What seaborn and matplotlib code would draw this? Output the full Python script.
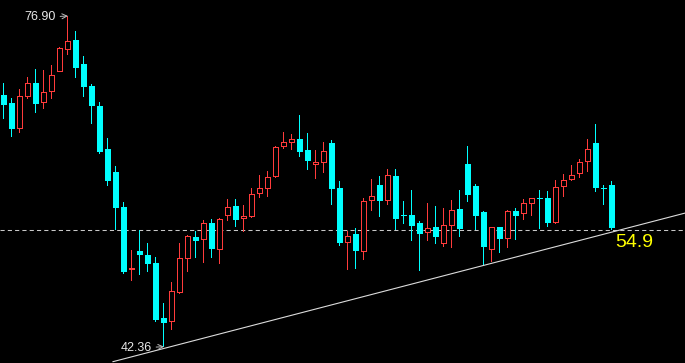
import matplotlib
matplotlib.use('Agg')
import matplotlib.pyplot as plt
import seaborn as sns
import numpy as np

# candlestick data (daily OHLC)
opens = [68.65, 67.81, 65.13, 68.47, 69.87, 67.78, 68.93, 71.08, 73.32, 74.36,
         71.89, 69.59, 67.50, 63.01, 60.61, 56.95, 50.37, 52.35, 51.94, 51.10,
         45.36, 44.97, 48.00, 51.55, 53.82, 53.47, 55.28, 52.49, 56.04, 57.05,
         55.73, 55.94, 58.34, 58.86, 60.11, 63.25, 63.67, 64.05, 62.90, 61.31,
         61.58, 63.63, 58.93, 53.22, 54.13, 52.28, 57.61, 59.25, 57.61, 60.19,
         56.11, 56.11, 55.28, 54.20, 54.86, 53.12, 54.93, 56.74, 61.47, 59.14,
         56.43, 52.51, 54.83, 53.64, 56.50, 56.25, 57.29, 57.89, 57.86, 55.31,
         59.01, 59.74, 60.37, 61.62, 63.60, 58.90, 59.22]
highs = [69.90, 68.34, 69.28, 70.53, 71.36, 71.26, 71.78, 73.69, 76.90, 75.30,
         72.72, 69.80, 67.92, 64.16, 61.23, 57.47, 52.46, 54.55, 53.19, 51.73,
         46.92, 49.12, 53.19, 54.03, 54.44, 55.59, 55.70, 55.83, 57.79, 57.79,
         57.16, 58.93, 60.29, 60.71, 63.32, 64.78, 64.58, 66.56, 64.68, 62.90,
         63.74, 63.95, 59.67, 54.44, 54.76, 57.89, 59.87, 60.19, 60.92, 60.92,
         57.58, 58.72, 55.49, 57.37, 57.05, 56.85, 57.68, 58.72, 63.32, 59.38,
         56.53, 54.83, 54.90, 56.67, 56.81, 57.75, 57.86, 58.72, 58.59, 59.74,
         60.37, 61.31, 61.93, 64.02, 65.62, 59.22, 59.63]
lows = [66.14, 64.29, 64.71, 68.20, 66.80, 67.22, 68.26, 71.00, 72.86, 70.46,
        68.47, 65.62, 62.49, 59.18, 54.55, 49.98, 49.22, 49.85, 50.19, 44.94,
        42.36, 44.10, 47.89, 50.16, 51.62, 51.10, 51.62, 51.03, 55.52, 54.86,
        54.37, 55.83, 57.92, 58.03, 60.01, 63.01, 62.94, 62.20, 60.85, 59.91,
        60.53, 57.19, 52.91, 50.40, 50.51, 51.45, 56.56, 55.94, 57.19, 54.55,
        55.17, 53.43, 50.30, 53.43, 53.12, 52.80, 52.70, 53.85, 57.50, 54.55,
        50.89, 51.21, 52.18, 52.70, 53.53, 55.62, 56.04, 54.68, 54.89, 55.21,
        58.03, 59.63, 59.95, 60.57, 58.55, 57.19, 54.58]
closes = [67.64, 65.13, 68.51, 69.87, 67.74, 68.93, 70.71, 73.53, 74.26, 71.50,
          69.52, 67.53, 62.73, 59.70, 56.88, 50.16, 50.58, 51.94, 51.03, 45.15,
          44.87, 48.18, 51.62, 53.92, 53.40, 55.28, 52.56, 55.70, 56.95, 55.59,
          56.01, 58.31, 58.93, 60.08, 63.22, 63.71, 64.02, 62.73, 61.79, 61.65,
          62.80, 58.86, 53.22, 53.92, 52.39, 57.58, 58.07, 57.61, 60.29, 55.70,
          56.04, 55.00, 54.16, 54.73, 53.85, 55.04, 56.61, 54.68, 58.24, 56.04,
          52.80, 54.83, 53.64, 56.51, 56.04, 57.34, 57.86, 57.82, 55.31, 59.01,
          59.74, 60.26, 61.62, 62.98, 58.97, 58.83, 54.79]

# annotations / guide lines
max_label = '76.90'
min_label = '42.36'
last_label = '54.9'
dash_level = 54.55
trend_x = [13.6, 85.2]
trend_y = [40.79, 56.33]

UP = '#ff3b3b'
DOWN = '#00ffff'

sns.set_theme(style='dark', rc={'axes.facecolor': 'black', 'figure.facecolor': 'black'})
plt.rcParams['font.family'] = ['Liberation Sans', 'DejaVu Sans']

fig = plt.figure(figsize=(6.85, 3.63), dpi=100)
ax = fig.add_axes([0, 0, 1, 1])
ax.set_facecolor('black')
ax.set_xlim(-0.5, 85.125)
ax.set_ylim(40.656, 78.571)

# one screen pixel in data units (8 px per candle)
px_x = 1 / 8
px_y = (78.571 - 40.656) / 363

x = np.arange(len(opens))
o = np.array(opens)
c = np.array(closes)
hi = np.array(highs)
lo = np.array(lows)
up = c >= o
cols = np.where(up, UP, DOWN)
top = np.maximum(o, c)
bottom = np.minimum(o, c)
height = np.maximum(top - bottom, px_y)

# wicks
ax.bar(x - px_x / 2, hi - lo, bottom=lo, width=px_x, color=cols, linewidth=0, zorder=2)
# red candles: hollow body (red block with a black inside)
ax.bar(x[up], height[up], bottom=bottom[up], width=6 * px_x, color=UP, linewidth=0, zorder=3)
inner = np.maximum(height - 2 * px_y, 0)
ax.bar(x[up], inner[up], bottom=bottom[up] + px_y, width=4 * px_x, color='black',
       linewidth=0, zorder=4)
# cyan candles: filled body
ax.bar(x[~up], height[~up], bottom=bottom[~up], width=6 * px_x, color=DOWN,
       linewidth=0, zorder=3)

# dashed price level and support trend line
ax.axhline(dash_level, color='#c8c8c8', lw=0.75, dashes=(4, 3), zorder=1)
sns.lineplot(x=trend_x, y=trend_y, ax=ax, color='#dcdcdc', lw=0.8, zorder=5)

# high / low markers
i_hi = int(np.argmax(highs))
i_lo = int(np.argmin(lows))
arrow = dict(arrowstyle='->', color='#bbbbbb', lw=0.7, shrinkA=1, shrinkB=0)
ax.annotate(max_label, xy=(i_hi, highs[i_hi]), xytext=(-9, -1), textcoords='offset points',
            ha='right', va='center', fontsize=9, color='#e8e8e8', arrowprops=arrow, zorder=6)
ax.annotate(min_label, xy=(i_lo, lows[i_lo]), xytext=(-9, -1), textcoords='offset points',
            ha='right', va='center', fontsize=9, color='#e8e8e8', arrowprops=arrow, zorder=6)
ax.text(76.35, dash_level - 1.35, last_label, fontsize=14, color='#ffff00',
        ha='left', va='center', zorder=6)

ax.set_xticks([])
ax.set_yticks([])
for s in ax.spines.values():
    s.set_visible(False)

fig.savefig('out.png', dpi=100, facecolor='black')
